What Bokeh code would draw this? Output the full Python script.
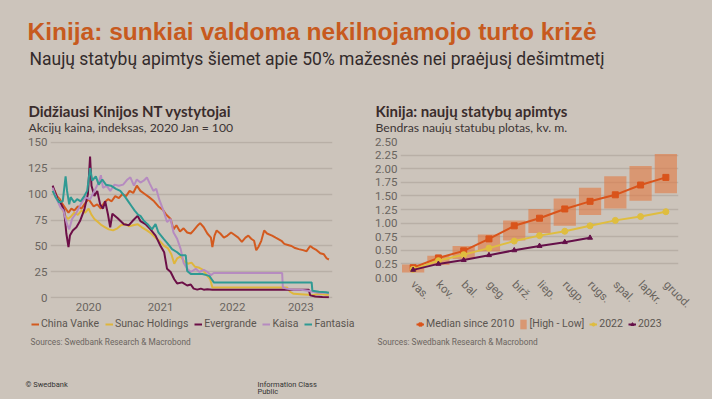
from bokeh.plotting import figure
from bokeh.layouts import column, row
from bokeh.models import (Range1d, FactorRange, FixedTicker, NumeralTickFormatter,
                          CustomJSTickFormatter, Legend, LegendItem)
from bokeh.core.properties import value
from bokeh.embed import file_html
from bokeh.resources import INLINE

# ---------------- data ----------------
main_title = "Kinija: sunkiai valdoma nekilnojamojo turto krizė"
main_subtitle = "Naujų statybų apimtys šiemet apie 50% mažesnės nei praėjusį dešimtmetį"
left_title = "Didžiausi Kinijos NT vystytojai"
left_subtitle = "Akcijų kaina, indeksas, 2020 Jan = 100"
right_title = "Kinija: naujų statybų apimtys"
right_subtitle = "Bendras naujų statubų plotas, kv. m."
source_text = "Sources: Swedbank Research & Macrobond"

year_ticks = [2020.5, 2021.5, 2022.5, 2023.45]
index_ticks = [0, 25, 50, 75, 100, 125, 150]

vanke = [(2020.00, 106), (2020.03, 103), (2020.06, 98), (2020.10, 95), (2020.14, 90), (2020.19, 85),
         (2020.22, 82), (2020.26, 86), (2020.30, 84), (2020.35, 88), (2020.40, 86), (2020.45, 91),
         (2020.50, 95), (2020.53, 92), (2020.57, 88), (2020.62, 90), (2020.67, 86), (2020.72, 92),
         (2020.77, 95), (2020.82, 93), (2020.87, 98), (2020.92, 96), (2020.97, 100), (2021.02, 98),
         (2021.07, 103), (2021.12, 101), (2021.17, 108), (2021.22, 103), (2021.28, 100), (2021.34, 97),
         (2021.41, 93), (2021.47, 88), (2021.53, 85), (2021.58, 80), (2021.64, 76), (2021.68, 66),
         (2021.72, 70), (2021.77, 64), (2021.82, 67), (2021.87, 63), (2021.92, 62), (2021.96, 65),
         (2022.02, 70), (2022.05, 72), (2022.10, 68), (2022.15, 62), (2022.20, 58), (2022.22, 49),
         (2022.25, 60), (2022.28, 65), (2022.33, 62), (2022.38, 58), (2022.43, 60), (2022.48, 63),
         (2022.52, 61), (2022.58, 58), (2022.63, 54), (2022.68, 58), (2022.72, 60), (2022.76, 57),
         (2022.80, 55), (2022.83, 46), (2022.86, 49), (2022.90, 55), (2022.94, 65), (2022.98, 62),
         (2023.05, 60), (2023.10, 58), (2023.18, 55), (2023.22, 52), (2023.27, 51), (2023.32, 50),
         (2023.37, 48), (2023.42, 47), (2023.48, 46), (2023.53, 45), (2023.58, 50), (2023.62, 48),
         (2023.67, 46), (2023.72, 43), (2023.77, 42), (2023.81, 38), (2023.84, 37)]

sunac = [(2020.00, 103), (2020.04, 98), (2020.08, 95), (2020.12, 88), (2020.17, 80), (2020.21, 76),
         (2020.25, 78), (2020.30, 82), (2020.35, 80), (2020.40, 84), (2020.45, 82), (2020.50, 86),
         (2020.54, 80), (2020.58, 76), (2020.63, 73), (2020.68, 70), (2020.73, 68), (2020.78, 66),
         (2020.84, 65), (2020.90, 67), (2020.95, 70), (2021.01, 71), (2021.06, 69), (2021.12, 70),
         (2021.18, 71), (2021.24, 68), (2021.31, 65), (2021.37, 62), (2021.43, 58), (2021.50, 54),
         (2021.55, 50), (2021.60, 48), (2021.65, 42), (2021.69, 33), (2021.73, 38), (2021.78, 40),
         (2021.83, 35), (2021.88, 33), (2021.93, 34), (2021.98, 30), (2022.04, 29), (2022.09, 27),
         (2022.14, 22), (2022.19, 18), (2022.22, 10), (2023.26, 10), (2023.30, 6), (2023.35, 4),
         (2023.45, 3.5), (2023.55, 3), (2023.60, 2.5), (2023.70, 4), (2023.80, 3), (2023.84, 3)]

evergrande = [(2020.00, 108), (2020.03, 102), (2020.07, 95), (2020.12, 90), (2020.16, 84), (2020.19, 62),
              (2020.22, 49), (2020.24, 60), (2020.28, 65), (2020.33, 68), (2020.38, 74), (2020.44, 85),
              (2020.49, 100), (2020.52, 136), (2020.54, 108), (2020.58, 98), (2020.62, 103), (2020.66, 90),
              (2020.70, 86), (2020.73, 93), (2020.77, 80), (2020.80, 68), (2020.83, 81), (2020.90, 77),
              (2020.99, 71), (2021.06, 70), (2021.11, 74), (2021.18, 79), (2021.22, 74), (2021.29, 71),
              (2021.36, 66), (2021.43, 60), (2021.50, 50), (2021.55, 44), (2021.59, 28), (2021.64, 25),
              (2021.69, 18), (2021.73, 14), (2021.80, 15), (2021.87, 12), (2021.92, 13), (2021.96, 9),
              (2022.01, 8), (2022.06, 9), (2022.10, 8), (2022.15, 8.5), (2022.22, 8), (2023.56, 8),
              (2023.58, 2.5), (2023.65, 1.5), (2023.75, 1), (2023.84, 0.8)]

kaisa = [(2020.00, 106), (2020.03, 100), (2020.07, 93), (2020.11, 87), (2020.15, 84), (2020.20, 71),
         (2020.23, 66), (2020.27, 76), (2020.33, 82), (2020.39, 90), (2020.45, 97), (2020.52, 95),
         (2020.58, 103), (2020.64, 111), (2020.67, 118), (2020.70, 106), (2020.75, 108), (2020.80, 103),
         (2020.86, 109), (2020.92, 108), (2020.98, 109), (2021.04, 114), (2021.08, 116), (2021.13, 108),
         (2021.17, 114), (2021.22, 111), (2021.27, 113), (2021.31, 116), (2021.35, 110), (2021.40, 103),
         (2021.44, 105), (2021.48, 95), (2021.55, 82), (2021.59, 73), (2021.64, 76), (2021.68, 63),
         (2021.73, 57), (2021.78, 47), (2021.82, 34), (2021.87, 28), (2021.92, 25), (2021.99, 28),
         (2022.04, 25), (2022.10, 27), (2022.15, 25), (2022.20, 22), (2022.24, 24), (2023.19, 24),
         (2023.20, 10), (2023.25, 9), (2023.35, 8), (2023.45, 8), (2023.55, 7), (2023.62, 6),
         (2023.70, 5), (2023.80, 5), (2023.84, 4.5)]

fantasia = [(2020.00, 103), (2020.04, 97), (2020.09, 92), (2020.14, 93), (2020.18, 117), (2020.20, 103),
            (2020.23, 90), (2020.25, 97), (2020.30, 92), (2020.34, 95), (2020.39, 93), (2020.44, 98),
            (2020.48, 103), (2020.52, 125), (2020.55, 113), (2020.60, 117), (2020.64, 109), (2020.69, 114),
            (2020.74, 109), (2020.81, 108), (2020.88, 105), (2020.94, 103), (2021.01, 97), (2021.06, 92),
            (2021.10, 88), (2021.14, 84), (2021.19, 80), (2021.22, 79), (2021.27, 74), (2021.32, 71),
            (2021.38, 66), (2021.43, 71), (2021.47, 63), (2021.54, 57), (2021.59, 53), (2021.66, 47),
            (2021.73, 44), (2021.78, 41), (2021.85, 41), (2021.87, 26), (2021.92, 23), (2022.00, 23),
            (2022.08, 23), (2022.14, 22), (2022.18, 21), (2022.21, 18), (2022.24, 15), (2023.60, 15),
            (2023.61, 7), (2023.70, 6), (2023.80, 5.5), (2023.84, 5)]

companies = ["China Vanke", "Sunac Holdings", "Evergrande", "Kaisa", "Fantasia"]

months = ["vas.", "kov.", "bal.", "geg.", "birž.", "liep.", "rugp.", "rugs.", "spal.", "lapkr.", "gruod."]
median_2010 = [0.18, 0.36, 0.49, 0.71, 0.95, 1.09, 1.26, 1.40, 1.52, 1.70, 1.84]
high_2010 = [0.24, 0.40, 0.58, 0.79, 1.05, 1.26, 1.45, 1.65, 1.86, 2.05, 2.27]
low_2010 = [0.09, 0.23, 0.34, 0.48, 0.68, 0.82, 0.95, 1.15, 1.27, 1.41, 1.55]
area_2022 = [0.15, 0.31, 0.42, 0.54, 0.67, 0.77, 0.85, 0.95, 1.05, 1.12, 1.21]
area_2023 = [0.14, 0.25, 0.32, 0.41, 0.50, 0.58, 0.65, 0.73]
area_ticks = [0, 0.25, 0.5, 0.75, 1.0, 1.25, 1.5, 1.75, 2.0, 2.25, 2.5]
right_labels = ["Median since 2010", "[High - Low]", "2022", "2023"]

# ---------------- style ----------------
BG = "#ccc4bb"
GRID = "#b8afa6"
TICK = "#6a645f"
DARK = "#3a2c2c"
ORANGE_T = "#c75a1e"
BODY = "Roboto"
HEAD = "'Liberation Sans', Arial"
SANS = "Lato"
COLORS = ["#d35a1f", "#dfb63c", "#6c0f47", "#b68bc0", "#2f9a93"]
MED = "#d9541b"
BOX = "#e07a45"
C22 = "#dfbd3f"
C23 = "#651049"
BGSTYLE = {"background-color": BG}
NONE = [float("nan")]   # legend-key renderers carry no visible data


def style(p):
    p.background_fill_color = BG
    p.border_fill_color = BG
    p.outline_line_color = None
    p.frame_align = False
    return p


def blank(w, h):
    p = figure(width=w, height=h, x_range=Range1d(0, w), y_range=Range1d(h, 0),
               output_backend="svg", toolbar_location=None, min_border=0,
               x_axis_location=None, y_axis_location=None)
    p.grid.visible = False
    return style(p)


def txt(p, x, y, s, size, color, font, bold=False):
    p.text(x=[x], y=[y], text=[s], text_font=value(font), text_font_size=value(size),
           text_color=color, text_baseline="alphabetic", text_align="left",
           text_font_style="bold" if bold else "normal")


def axis_style(p):
    for ax in (p.xaxis, p.yaxis):
        ax.axis_line_color = None
        ax.major_tick_line_color = None
        ax.minor_tick_line_color = None
        ax.major_tick_out = 0
        ax.major_label_text_font = BODY
        ax.major_label_text_font_size = "11.5px"
        ax.major_label_text_color = TICK
    p.xgrid.visible = False
    p.ygrid.grid_line_color = GRID
    p.ygrid.grid_line_width = 1.3


def legend(items, x, y, standoff, spacing):
    return Legend(items=items, orientation="horizontal", location=(x, y),
                  glyph_width=8, glyph_height=12, label_height=12, label_width=5,
                  label_standoff=standoff, spacing=spacing, padding=0, margin=0,
                  background_fill_alpha=0, border_line_color=None,
                  label_text_font=BODY, label_text_font_size="10.5px",
                  label_text_color="#5b5550")


# ---------------- header ----------------
head = blank(712, 134)
txt(head, 27, 31, main_title, "24.5px", ORANGE_T, HEAD, bold=True)
txt(head, 29, 58, main_subtitle, "17.5px", "#332b2b", BODY)
txt(head, 28, 110.7, left_title, "15px", DARK, SANS, bold=True)
txt(head, 28, 127, left_subtitle, "12.2px", "#3d3535", SANS)
txt(head, 375, 110.7, right_title, "15px", DARK, SANS, bold=True)
txt(head, 375, 127, right_subtitle, "12.2px", "#3d3535", SANS)

# ---------------- left chart ----------------
pl = figure(width=362, height=184, x_range=Range1d(2019.97, 2023.89), y_range=Range1d(-0.5, 150.5),
            min_border_left=50, min_border_right=30, min_border_top=7, min_border_bottom=20,
            output_backend="svg", toolbar_location=None)
style(pl)
axis_style(pl)
pl.yaxis.ticker = FixedTicker(ticks=index_ticks)
pl.xaxis.ticker = FixedTicker(ticks=year_ticks)
pl.xaxis.formatter = CustomJSTickFormatter(code="return Math.floor(tick).toString()")
pl.yaxis.major_label_standoff = 3
pl.xaxis.major_label_standoff = 4

for series, col in zip([vanke, sunac, evergrande, kaisa, fantasia], COLORS):
    pl.line([d for d, v in series], [v for d, v in series], line_color=col, line_width=2)

# ---------------- right chart ----------------
pr = figure(width=350, height=184, x_range=FactorRange(factors=months), y_range=Range1d(0, 2.5),
            min_border_left=38, min_border_right=34, min_border_top=7, min_border_bottom=38,
            output_backend="svg", toolbar_location=None)
style(pr)
axis_style(pr)
pr.yaxis.ticker = FixedTicker(ticks=area_ticks)
pr.yaxis.formatter = NumeralTickFormatter(format="0.00")
pr.yaxis.major_label_standoff = 3
pr.xaxis.major_label_orientation = -0.785
pr.xaxis.major_label_standoff = 5

pr.vbar(x=months, bottom=low_2010, top=high_2010, width=0.88,
        fill_color=BOX, fill_alpha=0.62, line_color=None)
pr.line(months, median_2010, line_color=MED, line_width=2)
pr.scatter(months, median_2010, marker="square", size=6, color=MED)
pr.line(months, area_2022, line_color=C22, line_width=2)
pr.scatter(months, area_2022, marker="circle", size=6, color=C22)
pr.line(months[:len(area_2023)], area_2023, line_color=C23, line_width=2)
pr.scatter(months[:len(area_2023)], area_2023, marker="triangle", size=5, color=C23)

# ---------------- footer (legends + sources) ----------------
foot = blank(712, 81)
left_items = []
for name, col in zip(companies, COLORS):
    r = foot.line(x=NONE, y=NONE, line_color=col, line_width=2)
    left_items.append(LegendItem(label=name, renderers=[r]))
foot.add_layout(legend(left_items, 31, 69, 2, 6))

kl = foot.line(x=NONE, y=NONE, line_color=MED, line_width=2)
kp = foot.scatter(x=NONE, y=NONE, marker="square", size=6, color=MED)
kb = foot.vbar(x=NONE, bottom=NONE, top=NONE, width=1, fill_color=BOX, fill_alpha=0.62,
               line_color=None)
yl = foot.line(x=NONE, y=NONE, line_color=C22, line_width=2)
yp = foot.scatter(x=NONE, y=NONE, marker="circle", size=6, color=C22)
zl = foot.line(x=NONE, y=NONE, line_color=C23, line_width=2)
zp = foot.scatter(x=NONE, y=NONE, marker="triangle", size=5, color=C23)
right_items = [LegendItem(label=right_labels[0], renderers=[kl, kp]),
               LegendItem(label=right_labels[1], renderers=[kb]),
               LegendItem(label=right_labels[2], renderers=[yl, yp]),
               LegendItem(label=right_labels[3], renderers=[zl, zp])]
foot.add_layout(legend(right_items, 416, 69, 2, 5))

txt(foot, 30, 23.5, source_text, "8.3px", "#6b6560", BODY)
txt(foot, 377, 23.5, source_text, "8.3px", "#6b6560", BODY)
txt(foot, 25, 65.5, "© Swedbank", "7.5px", "#333333", BODY)
txt(foot, 257, 65.5, "Information Class", "7.5px", "#333333", BODY)
txt(foot, 257, 72.5, "Public", "7.5px", "#333333", BODY)

layout = column(head, row(pl, pr, spacing=0, styles=BGSTYLE), foot, spacing=0, styles=BGSTYLE)

html = file_html(layout, INLINE, title="Kinija")
html = html.replace("<body>", '<body style="background-color:%s;">' % BG, 1)
open("out.html", "w").write(html)
